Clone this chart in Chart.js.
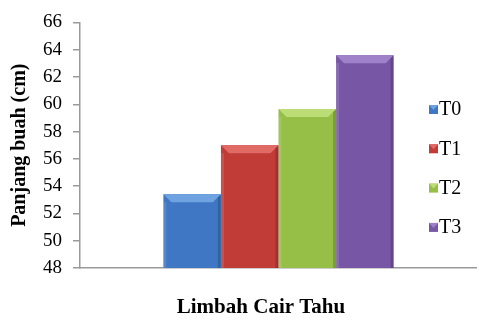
<!DOCTYPE html>
<html><head><meta charset="utf-8">
<script src="https://cdn.jsdelivr.net/npm/chart.js@4/dist/chart.umd.min.js"></script>
<style>html,body{margin:0;padding:0;background:#fff}#wrap{width:477px;height:320px;position:relative}</style>
</head><body><div id="wrap"><canvas id="c"></canvas></div>
<script>
const CATEGORIES=["Limbah Cair Tahu"];
const SERIES=["T0","T1","T2","T3"];
const VALUES=[53.4,57.0,59.65,63.6];
const COLORS=["#3f77c4","#c13b37","#96bf48","#7856a6"];
const BEVEL=["#6fa2e0","#e06a66","#bcdc75","#9f81c9"];
const Y_MIN=48,Y_MAX=66,Y_STEP=2;
const FONT='"Liberation Serif","Times New Roman",serif';
Chart.defaults.font.family=FONT;
Chart.defaults.color="#000";

// bevel look on top of each bar, using the bar elements the library laid out
const bevel={id:"bevel",afterDatasetsDraw(ch){const ctx=ch.ctx,bot=ch.chartArea.bottom;
  ch.data.datasets.forEach((ds,i)=>{ch.getDatasetMeta(i).data.forEach(b=>{
    const l=b.x-b.width/2,r=b.x+b.width/2,t=b.y,h=8,base=Math.min(b.base,bot);
    ctx.save();
    ctx.fillStyle=BEVEL[i];
    ctx.beginPath();ctx.moveTo(l,t);ctx.lineTo(r,t);ctx.lineTo(r-h,t+h);ctx.lineTo(l+h,t+h);ctx.closePath();ctx.fill();
    ctx.fillStyle="rgba(0,0,0,0.18)";
    ctx.beginPath();ctx.moveTo(r,t);ctx.lineTo(r,base);ctx.lineTo(r-3,base);ctx.lineTo(r-3,t+3);ctx.closePath();ctx.fill();
    ctx.fillStyle="rgba(255,255,255,0.12)";
    ctx.fillRect(l,t+h,3,base-t-h);
    ctx.restore();});});}};

// legend laid over the right side of the plot, like the original
const sideLegend={id:"sideLegend",afterDraw(ch){const ctx=ch.ctx;
  ctx.save();ctx.font="20px "+FONT;ctx.textBaseline="middle";
  ch.data.datasets.forEach((ds,i)=>{const y=109+i*39.3,x=429;
    ctx.fillStyle=COLORS[i];ctx.fillRect(x,y-4,9,9);
    ctx.fillStyle=BEVEL[i];ctx.beginPath();ctx.moveTo(x,y-4);ctx.lineTo(x+9,y-4);ctx.lineTo(x+4.5,y+1);ctx.closePath();ctx.fill();
    ctx.fillStyle="#000";ctx.fillText(ds.label,x+10,y+1);});
  ctx.restore();}};

// category title, centred under the chart as in the original
const xTitle={id:"xTitle",afterDraw(ch){const ctx=ch.ctx;
  ctx.save();ctx.font="bold 21px "+FONT;ctx.textAlign="center";ctx.textBaseline="middle";ctx.fillStyle="#000";
  ctx.fillText(CATEGORIES[0],261,308);ctx.restore();}};

new Chart(document.getElementById("c"),{type:"bar",
  data:{labels:CATEGORIES,datasets:SERIES.map((s,i)=>({label:s,data:[VALUES[i]],backgroundColor:COLORS[i],
    borderWidth:0,categoryPercentage:0.58,barPercentage:1}))},
  options:{responsive:true,maintainAspectRatio:false,animation:false,
    layout:{padding:{top:19,right:0,left:0,bottom:0}},
    plugins:{legend:{display:false},tooltip:{enabled:false}},
    scales:{
      x:{ticks:{display:false},grid:{display:false},border:{color:"#9a9a9a",width:1.5},
        afterFit:s=>{s.height=52;}},
      y:{min:Y_MIN,max:Y_MAX,ticks:{stepSize:Y_STEP,padding:11,font:{size:19}},
        grid:{drawOnChartArea:false,drawTicks:true,tickLength:7,color:"#9a9a9a",lineWidth:1.5},
        border:{color:"#9a9a9a",width:1.5},
        title:{display:true,text:"Panjang buah (cm)",font:{size:20,weight:"bold"},padding:{top:8,bottom:0}},
        afterFit:s=>{s.width=80;}}}},
  plugins:[bevel,sideLegend,xTitle]});
</script></body></html>
